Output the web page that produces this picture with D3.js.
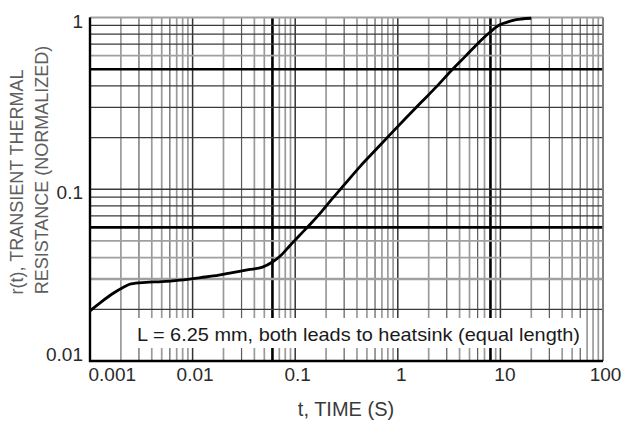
<!DOCTYPE html>
<html>
<head>
<meta charset="utf-8">
<script src="https://cdn.jsdelivr.net/npm/d3@7"></script>
<style>
  body { margin: 0; background: #fff; }
  svg { display: block; font-family: "Liberation Sans", Arial, sans-serif; }
</style>
</head>
<body>
<svg id="chart" width="623" height="423"></svg>
<script>
// transient thermal resistance curve
const timeS = [0.001, 0.0013, 0.0017, 0.0021, 0.0025, 0.0035, 0.005, 0.0075, 0.012, 0.018,
  0.023, 0.035, 0.048, 0.06, 0.072, 0.089, 0.11, 0.14, 0.18, 0.233, 0.3, 0.43, 0.6, 0.84,
  1.2, 1.7, 2.4, 3.4, 4.5, 5.4, 6.6, 7.9, 9, 10, 11.5, 13.3, 16, 20];
const rNorm = [0.0196, 0.0222, 0.0249, 0.0268, 0.0281, 0.0287, 0.029, 0.0296, 0.0306, 0.0316,
  0.0325, 0.034, 0.0352, 0.0377, 0.041, 0.047, 0.0538, 0.0625, 0.0738, 0.089, 0.106, 0.136, 0.168, 0.208,
  0.26, 0.322, 0.397, 0.498, 0.59, 0.66, 0.745, 0.82, 0.875, 0.91, 0.937, 0.963, 0.98, 0.99];

const xTickValues = [0.001, 0.01, 0.1, 1, 10, 100];
const yTickValues = [0.01, 0.1, 1];

// grid lines drawn heavier / lighter in the scan
const heavyX = [0.06, 8];
const heavyY = [0.5, 0.06];
const lightY = [1, 0.6, 0.05, 0.04, 0.03];

const note = "L = 6.25 mm, both leads to heatsink (equal length)";
const xTitle = "t, TIME (S)";
const yTitle = ["r(t), TRANSIENT THERMAL", "RESISTANCE (NORMALIZED)"];

const plotLeft = 90, plotRight = 603, plotTop = 17.5, plotBottom = 361;

const x = d3.scaleLog().domain([0.001, 100]).range([plotLeft, plotRight]);
const y = d3.scaleLog().domain([0.01, 1]).range([plotBottom, plotTop]);

const svg = d3.select("#chart");
const near = (a, b) => Math.abs(Math.log10(a) - Math.log10(b)) < 1e-6;
const digit = v => Math.round(v / Math.pow(10, Math.floor(Math.log10(v) + 1e-9)));

// vertical grid
svg.append("g")
  .selectAll("line")
  .data(x.ticks())
  .join("line")
    .attr("x1", d => x(d)).attr("x2", d => x(d))
    .attr("y1", plotTop).attr("y2", plotBottom)
    .attr("stroke", d => {
      if (heavyX.some(h => near(h, d))) return "#000";
      if (digit(d) === 1) return "#333";
      return [3, 6].includes(digit(d)) ? "#5a5a5a" : "#9a9a9a";
    })
    .attr("stroke-width", d => {
      if (heavyX.some(h => near(h, d))) return 2.6;
      if (digit(d) === 1) return 1.5;
      return [3, 6].includes(digit(d)) ? 1.2 : 1.7;
    });

// horizontal grid
svg.append("g")
  .selectAll("line")
  .data(y.ticks())
  .join("line")
    .attr("x1", plotLeft).attr("x2", plotRight)
    .attr("y1", d => y(d)).attr("y2", d => y(d))
    .attr("stroke", d => {
      if (heavyY.some(h => near(h, d))) return "#000";
      return lightY.some(h => near(h, d)) ? "#a0a0a0" : "#3a3a3a";
    })
    .attr("stroke-width", d => {
      if (heavyY.some(h => near(h, d))) return 2.6;
      if (near(d, 0.03)) return 2.4;
      return lightY.some(h => near(h, d)) ? 1.8 : 1.3;
    });

// right edge, gray like the top
svg.append("line")
  .attr("x1", plotRight).attr("x2", plotRight).attr("y1", plotTop).attr("y2", plotBottom)
  .attr("stroke", "#888").attr("stroke-width", 1.5);

// annotation box over the grid
svg.append("rect")
  .attr("x", 128).attr("y", 318).attr("width", 457).attr("height", 30)
  .attr("fill", "#fff");
svg.append("text")
  .attr("x", 137).attr("y", 341)
  .attr("font-size", 19)
  .attr("fill", "#1a1a1a")
  .attr("textLength", 443)
  .attr("lengthAdjust", "spacingAndGlyphs")
  .text(note);

// axes
const xAxis = svg.append("g")
  .attr("transform", `translate(0,${plotBottom})`)
  .call(d3.axisBottom(x).tickValues(xTickValues).tickSize(0).tickPadding(7)
    .tickFormat(d3.format("~g")));
xAxis.select(".domain").remove();
xAxis.selectAll("text")
  .attr("font-size", 19).attr("fill", "#2a2a2a")
  .attr("text-anchor", d => d === 0.001 ? "start" : "middle")
  .attr("dx", d => d === 0.001 ? "-2" : d === 1 ? "3" : d === 10 ? "4" : "2");
xAxis.attr("font-family", null);

const yAxis = svg.append("g")
  .attr("transform", `translate(${plotLeft},0)`)
  .call(d3.axisLeft(y).tickValues(yTickValues).tickSize(0).tickPadding(7)
    .tickFormat(d3.format("~g")));
yAxis.select(".domain").remove();
yAxis.selectAll("text")
  .attr("font-size", 19).attr("fill", "#2a2a2a")
  .attr("dy", d => d === 0.01 ? "-0.02em" : "0.5em");
yAxis.attr("font-family", null);

svg.append("path")
  .attr("d", `M${plotLeft},${plotTop}V${plotBottom}H${plotRight}`)
  .attr("fill", "none").attr("stroke", "#000").attr("stroke-width", 2.4);

// curve
const line = d3.line()
  .x((d, i) => x(timeS[i]))
  .y(d => y(d))
  .curve(d3.curveMonotoneX);

svg.append("path")
  .datum(rNorm)
  .attr("d", line)
  .attr("fill", "none")
  .attr("stroke", "#000")
  .attr("stroke-width", 2.8)
  .attr("stroke-linejoin", "round");

// titles
svg.append("text")
  .attr("x", 346).attr("y", 416)
  .attr("text-anchor", "middle")
  .attr("font-size", 20)
  .attr("fill", "#3a3a3a")
  .text(xTitle);

svg.selectAll(".ytitle")
  .data(yTitle)
  .join("text")
    .attr("class", "ytitle")
    .attr("transform", (d, i) => `translate(${[23, 48][i]},${[182, 170][i]}) rotate(-90)`)
    .attr("text-anchor", "middle")
    .attr("font-size", 18)
    .attr("fill", "#5e5e5e")
    .text(d => d);
</script>
</body>
</html>
